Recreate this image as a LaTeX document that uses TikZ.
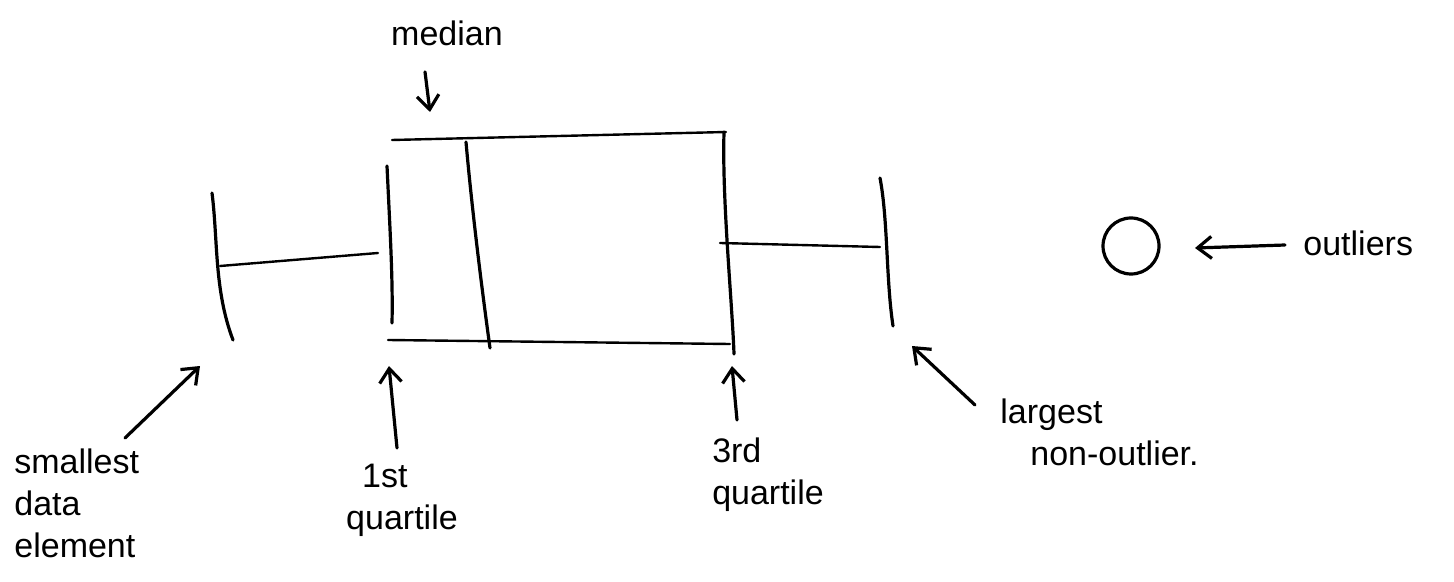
\documentclass[tikz,border=0pt]{standalone}
\usepackage{fontspec}
\setmainfont{Liberation Sans}
\usetikzlibrary{arrows.meta}
\begin{document}
\begin{tikzpicture}[x=0.5pt,y=-0.5pt,
  ink/.style={line width=1.6pt,line cap=round,line join=round},
  thin ink/.style={line width=1.2pt,line cap=round},
  pointer/.style={ink,-{Straight Barb[length=7pt,width=11pt,line width=1.6pt]}},
  lbl/.style={font=\fontsize{17}{21}\selectfont,inner sep=0pt,align=left}]
\useasboundingbox (0,0) rectangle (1454,582);
% box plot coordinates
\coordinate (wl1) at (212,193);
\coordinate (wl2) at (233,340);
\coordinate (wlA) at (220,266);
\coordinate (wlB) at (378,253);
\coordinate (q1t) at (387,166);
\coordinate (q1b) at (392,323);
\coordinate (bt1) at (392,140);
\coordinate (bt2) at (726,132);
\coordinate (bb1) at (388,340);
\coordinate (bb2) at (730,344);
\coordinate (md1) at (466,142);
\coordinate (md2) at (490,348);
\coordinate (q3t) at (724,132);
\coordinate (q3b) at (734,354);
\coordinate (wrA) at (720,243);
\coordinate (wrB) at (880,247);
\coordinate (wr1) at (880,178);
\coordinate (wr2) at (893,326);
% left whisker
\draw[ink] (wl1) .. controls (218,240) and (214,290) .. (wl2);
\draw[thin ink] (wlA) -- (wlB);
% box
\draw[ink] (q1t) .. controls (390,230) and (393,280) .. (q1b);
\draw[thin ink] (bt1) -- (bt2);
\draw[thin ink] (bb1) -- (bb2);
\draw[ink] (md1) .. controls (472,210) and (482,290) .. (md2);
\draw[ink] (q3t) .. controls (722,200) and (732,300) .. (q3b);
% right whisker
\draw[thin ink] (wrA) -- (wrB);
\draw[ink] (wr1) .. controls (888,220) and (886,280) .. (wr2);
% outlier
\node[ink,draw,circle,minimum size=28pt,inner sep=0pt] (out) at (1131,246) {};
\coordinate (outA) at (1195,248);
\node[lbl,anchor=west] (outlbl) at (1303,243) {outliers};
\draw[pointer] (outlbl.west) ++(-18,2) coordinate (outS) -- (outA);
% median
\node[lbl] (median) at (447,33) {median};
\coordinate (mdA) at (430,112);
\draw[pointer] (median.south) ++(-22,26) coordinate (mdS) -- (mdA);
% smallest data element
\node[lbl,anchor=north west] (small) at (14,448) {smallest\\data\\element};
\coordinate (smS) at (125,438);
\coordinate (smA) at (200,366);
\draw[pointer] (smS) -- (smA);
% 1st quartile
\node[lbl] (q1lbl) at (402,500) {\hspace*{8pt}1st\\quartile};
\coordinate (q1S) at (397,448);
\coordinate (q1A) at (389,366);
\draw[pointer] (q1S) -- (q1A);
% 3rd quartile
\node[lbl] (q3lbl) at (768,475) {3rd\\quartile};
\coordinate (q3S) at (737,420);
\coordinate (q3A) at (732,366);
\draw[pointer] (q3S) -- (q3A);
% largest non-outlier
\node[lbl,anchor=north west] (larg) at (1000,398) {largest\\\hspace*{15pt}non-outlier.};
\coordinate (lgS) at (975,405);
\coordinate (lgA) at (912,346);
\draw[pointer] (lgS) -- (lgA);
\end{tikzpicture}
\end{document}
